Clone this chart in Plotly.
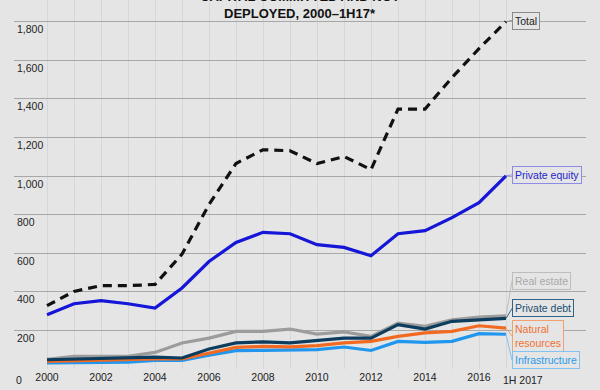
import plotly.graph_objects as go

years = list(range(2000, 2018))
total = [328, 402, 432, 432, 438, 595, 852, 1065, 1136, 1131, 1064, 1101, 1033, 1347, 1347, 1510, 1660, 1800]
private_equity = [281, 338, 354, 338, 316, 420, 557, 656, 708, 701, 644, 630, 587, 701, 717, 784, 862, 1001]
real_estate = [50, 65, 66, 66, 86, 135, 160, 195, 195, 207, 181, 192, 169, 238, 221, 255, 269, 276]
private_debt = [48, 52, 57, 62, 62, 57, 104, 135, 141, 135, 148, 160, 160, 230, 207, 247, 255, 262]
natural_resources = [40, 44, 46, 48, 52, 52, 83, 112, 117, 115, 121, 135, 143, 169, 187, 195, 224, 212]
infrastructure = [31, 34, 34, 36, 45, 45, 72, 95, 97, 100, 100, 114, 96, 143, 138, 143, 183, 180]

x_tick_vals = years
x_tick_text = [str(y) if (y % 2 == 0 and y < 2017) else "" for y in years]
y_tick_vals = [0, 200, 400, 600, 800, 1000, 1200, 1400, 1600, 1800]
y_tick_text = ["", "200", "400", "600", "800", "1,000", "1,200", "1,400", "1,600", "1,800"]

FONT = "Liberation Sans, Arial, sans-serif"

series = [
    ("Real estate", real_estate, "#9c9c9c", None),
    ("Infrastructure", infrastructure, "#2196ee", None),
    ("Natural resources", natural_resources, "#f26a22", None),
    ("Private debt", private_debt, "#0d3d5e", None),
    ("Private equity", private_equity, "#1616d8", None),
    ("Total", total, "#111111", "9px,6px"),
]

fig = go.Figure()
for name, vals, color, dash in series:
    fig.add_trace(go.Scatter(
        x=years, y=vals, mode="lines", name=name,
        line=dict(color=color, width=3.2, dash=dash),
        hoverinfo="skip",
    ))

labels = [
    ("Total", total[-1], "#222222", "#8a8a8a", -1),
    ("Private equity", private_equity[-1], "#2424cc", "#8c8ce6", -1),
    ("Real estate", real_estate[-1], "#a8a8a8", "#bdbdbd", -35),
    ("Private debt", private_debt[-1], "#1c4e70", "#2e6488", -10),
    ("Natural<br>resources", natural_resources[-1], "#f07030", "#f2a070", 8),
    ("Infrastructure", infrastructure[-1], "#2a9ae8", "#80c2f2", 26),
]
for text, yv, tcol, bcol, ay in labels:
    fig.add_annotation(
        x=2017, y=yv, xref="x", yref="y",
        text=text, showarrow=True, arrowhead=0, arrowwidth=1,
        arrowcolor=bcol, ax=6, ay=ay, axref="pixel", ayref="pixel",
        xanchor="left", yanchor="middle", align="left",
        font=dict(family=FONT, size=10.5, color=tcol),
        bordercolor=bcol, borderwidth=1, borderpad=2,
        bgcolor="#e5e5e5",
    )

fig.add_annotation(
    x=2017, y=0, xref="x", yref="y", text="1H 2017",
    showarrow=False, xanchor="left", yanchor="top", xshift=-5, yshift=-3,
    font=dict(family=FONT, size=10.5, color="#222222"),
)

fig.add_annotation(
    x=0, y=0, xref="paper", yref="y", text="0",
    showarrow=False, xanchor="left", yanchor="top", xshift=0, yshift=-3,
    font=dict(family=FONT, size=10.5, color="#222222"),
)

title_lines = ["CAPITAL COMMITTED AND NOT", "DEPLOYED, 2000\u20131H17*"]
for i, line in enumerate(title_lines):
    fig.add_annotation(
        x=0.5, y=1, xref="paper", yref="paper",
        text="<b>" + line + "</b>",
        showarrow=False, xanchor="center", yanchor="middle",
        yshift=4 - 17 * i,
        font=dict(family=FONT, size=13, color="#111111"),
    )

fig.update_layout(
    width=600, height=390,
    margin=dict(l=14, r=14, t=0, b=21),
    paper_bgcolor="#e5e5e5", plot_bgcolor="#e5e5e5",
    showlegend=False,
    font=dict(family=FONT, size=10.5, color="#222222"),
    xaxis=dict(
        range=[2000 - 33 / 27, 2000 + 539 / 27],
        tickvals=x_tick_vals, ticktext=x_tick_text,
        showgrid=True, gridcolor="#d6d6d6", gridwidth=1,
        zeroline=False, showline=False, ticks="", automargin=False,
        tickfont=dict(family=FONT, size=10.5, color="#222222"),
    ),
    yaxis=dict(
        range=[0, 369 / 0.193],
        tickvals=y_tick_vals, ticktext=y_tick_text,
        showgrid=True, gridcolor="#a8a8a8", gridwidth=1,
        zeroline=False, showline=False, ticks="", automargin=False,
        ticklabelposition="inside", ticklabelshift=8, ticklabelstandoff=0,
        tickfont=dict(family=FONT, size=10.5, color="#222222"),
    ),
)

fig.write_html(
    "out.html",
    config={"displayModeBar": False},
    post_script="document.body.style.margin='0';document.body.style.background='#e5e5e5';",
)
